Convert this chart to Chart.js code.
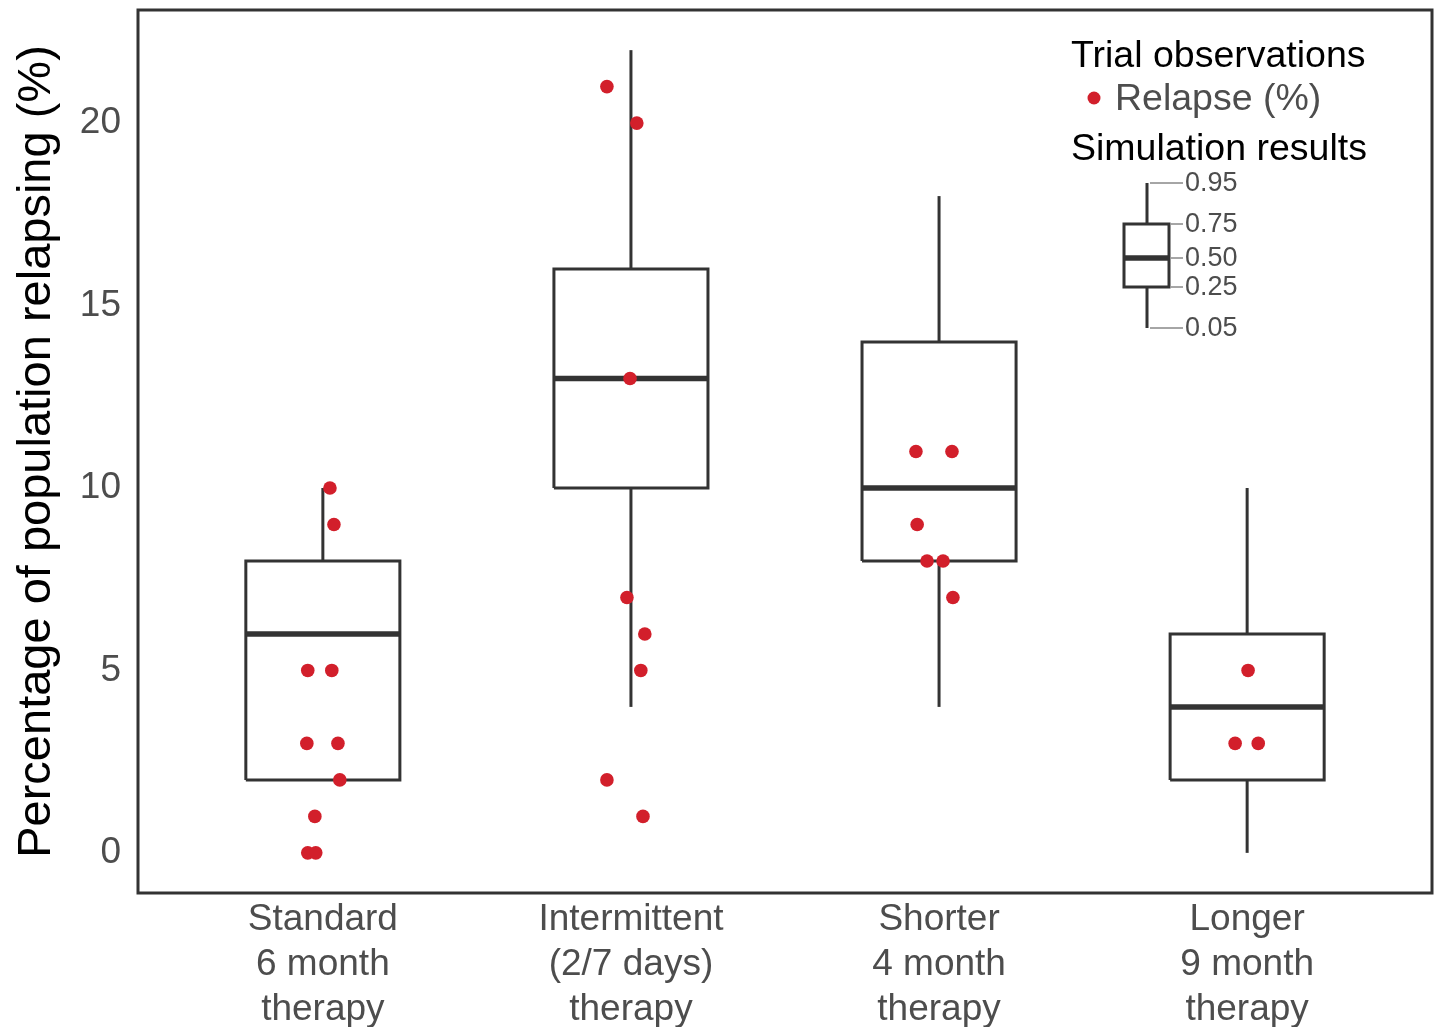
<!DOCTYPE html>
<html>
<head>
<meta charset="utf-8">
<script src="https://cdn.jsdelivr.net/npm/chart.js@4"></script>
<style>
  html, body { margin: 0; padding: 0; background: #fff; overflow: hidden; }
  canvas { display: block; }
</style>
</head>
<body>
<canvas id="grafikRelapse" width="1435" height="1027"></canvas>
<script>
// ====== DATA ======
const kategori = [
  ["Standard", "6 month", "therapy"],
  ["Intermittent", "(2/7 days)", "therapy"],
  ["Shorter", "4 month", "therapy"],
  ["Longer", "9 month", "therapy"]
];

// simulation quantiles per category (0.05, 0.25, 0.50, 0.75, 0.95)
const q05 = [2, 4, 4, 0];
const q25 = [2, 10, 8, 2];
const q50 = [6, 13, 10, 4];
const q75 = [8, 16, 14, 6];
const q95 = [10, 22, 18, 10];

// trial observations (relapse %)
const obsGroup   = [0, 0, 0, 0, 0, 0, 0, 0, 0, 0, 1, 1, 1, 1, 1, 1, 1, 1, 2, 2, 2, 2, 2, 2, 3, 3, 3];
const obsRelapse = [10, 9, 5, 5, 3, 3, 2, 1, 0, 0, 21, 20, 13, 7, 6, 5, 2, 1, 11, 11, 9, 8, 8, 7, 5, 3, 3];
const obsJitter  = [0.023, 0.036, -0.049, 0.029, -0.052, 0.049, 0.055, -0.026, -0.049, -0.023,
                    -0.078, 0.019, -0.003, -0.013, 0.045, 0.032, -0.078, 0.039,
                    -0.075, 0.042, -0.071, -0.039, 0.013, 0.045,
                    0.003, -0.039, 0.036];

const yTicks = [0, 5, 10, 15, 20];

// ====== STYLE ======
const FONT = '"Liberation Sans", Arial, Helvetica, sans-serif';
const GARIS = "#333333";
const MERAH = "#d21f2b";
const ABU = "#4d4d4d";
const LEBAR_BOX = 0.25; // half width of a box, in category units

// ====== DATASETS ======
const datasets = [];

datasets.push({
  label: "Relapse (%)",
  data: obsRelapse.map((v, i) => ({ x: obsGroup[i] + obsJitter[i], y: v })),
  backgroundColor: MERAH,
  borderWidth: 0,
  pointRadius: 6.8,
  showLine: false
});

function garis(points, width) {
  return {
    data: points,
    showLine: true,
    borderColor: GARIS,
    borderWidth: width,
    pointRadius: 0,
    borderCapStyle: "butt",
    borderJoinStyle: "miter",
    fill: false
  };
}

kategori.forEach((_, i) => {
  // median
  datasets.push(garis([{ x: i - LEBAR_BOX, y: q50[i] }, { x: i + LEBAR_BOX, y: q50[i] }], 5.5));
  // box
  datasets.push(garis([
    { x: i - LEBAR_BOX, y: q25[i] },
    { x: i + LEBAR_BOX, y: q25[i] },
    { x: i + LEBAR_BOX, y: q75[i] },
    { x: i - LEBAR_BOX, y: q75[i] },
    { x: i - LEBAR_BOX, y: q25[i] }
  ], 3));
  // whiskers
  datasets.push(garis([{ x: i, y: q75[i] }, { x: i, y: q95[i] }], 3));
  if (q25[i] > q05[i]) {
    datasets.push(garis([{ x: i, y: q05[i] }, { x: i, y: q25[i] }], 3));
  }
});

// ====== PLUGINS ======
const panelBorder = {
  id: "panelBorder",
  afterDraw(chart) {
    const { ctx, chartArea: a } = chart;
    ctx.save();
    ctx.strokeStyle = GARIS;
    ctx.lineWidth = 3;
    ctx.strokeRect(a.left, a.top, a.right - a.left, a.bottom - a.top);
    ctx.restore();
  }
};

const legendaKanan = {
  id: "legendaKanan",
  afterDraw(chart) {
    const ctx = chart.ctx;
    ctx.save();
    ctx.textBaseline = "alphabetic";
    ctx.textAlign = "left";

    ctx.fillStyle = "#000";
    ctx.font = "37.5px " + FONT;
    ctx.fillText("Trial observations", 1071, 67);

    ctx.fillStyle = MERAH;
    ctx.beginPath();
    ctx.arc(1094, 98, 6.5, 0, Math.PI * 2);
    ctx.fill();
    ctx.fillStyle = ABU;
    ctx.fillText("Relapse (%)", 1115, 110);

    ctx.fillStyle = "#000";
    ctx.fillText("Simulation results", 1071, 160);

    // mini box
    ctx.strokeStyle = GARIS;
    ctx.lineWidth = 3;
    ctx.lineCap = "butt";
    ctx.beginPath();
    ctx.moveTo(1147, 183); ctx.lineTo(1147, 224);
    ctx.moveTo(1147, 287); ctx.lineTo(1147, 328);
    ctx.stroke();
    ctx.strokeRect(1124, 224, 45, 63);
    ctx.lineWidth = 5.5;
    ctx.beginPath();
    ctx.moveTo(1124, 258); ctx.lineTo(1169, 258);
    ctx.stroke();

    const ket = [["0.95", 183, 1150], ["0.75", 224, 1171], ["0.50", 258, 1171], ["0.25", 287, 1171], ["0.05", 328, 1150]];
    ctx.strokeStyle = ABU;
    ctx.lineWidth = 1;
    ctx.fillStyle = ABU;
    ctx.font = "27px " + FONT;
    ctx.textBaseline = "middle";
    ket.forEach(([t, y, x0]) => {
      ctx.beginPath();
      ctx.moveTo(x0, y); ctx.lineTo(1183, y);
      ctx.stroke();
      ctx.fillText(t, 1185, y + 1);
    });
    ctx.restore();
  }
};

// ====== CHART ======
new Chart(document.getElementById("grafikRelapse").getContext("2d"), {
  type: "scatter",
  data: { datasets },
  options: {
    responsive: false,
    animation: false,
    layout: { autoPadding: false, padding: { left: 0, top: 10, right: 3, bottom: 0 } },
    plugins: {
      legend: { display: false },
      tooltip: { enabled: false }
    },
    scales: {
      x: {
        type: "linear",
        min: -0.6,
        max: 3.6,
        grid: { display: false, drawTicks: false },
        border: { display: false },
        afterBuildTicks: (axis) => { axis.ticks = kategori.map((_, i) => ({ value: i })); },
        afterFit: (axis) => {
          axis.height = 134;
          axis.paddingLeft = 0;
          axis.paddingRight = 0;
        },
        ticks: {
          padding: 4,
          color: ABU,
          font: { size: 37, family: FONT, lineHeight: 1.22 },
          callback: (v) => kategori[v] || ""
        }
      },
      y: {
        min: -1.1,
        max: 23.1,
        grid: { display: false, drawTicks: false },
        border: { display: false },
        afterBuildTicks: (axis) => { axis.ticks = yTicks.map((v) => ({ value: v })); },
        afterFit: (axis) => {
          axis.width = 138;
          axis.paddingTop = 0;
          axis.paddingBottom = 0;
        },
        ticks: {
          padding: 17,
          color: ABU,
          font: { size: 37, family: FONT }
        },
        title: {
          display: true,
          text: "Percentage of population relapsing (%)",
          color: "#000",
          font: { size: 47, family: FONT },
          padding: { top: 9, bottom: 0 }
        }
      }
    }
  },
  plugins: [panelBorder, legendaKanan]
});
</script>
</body>
</html>
